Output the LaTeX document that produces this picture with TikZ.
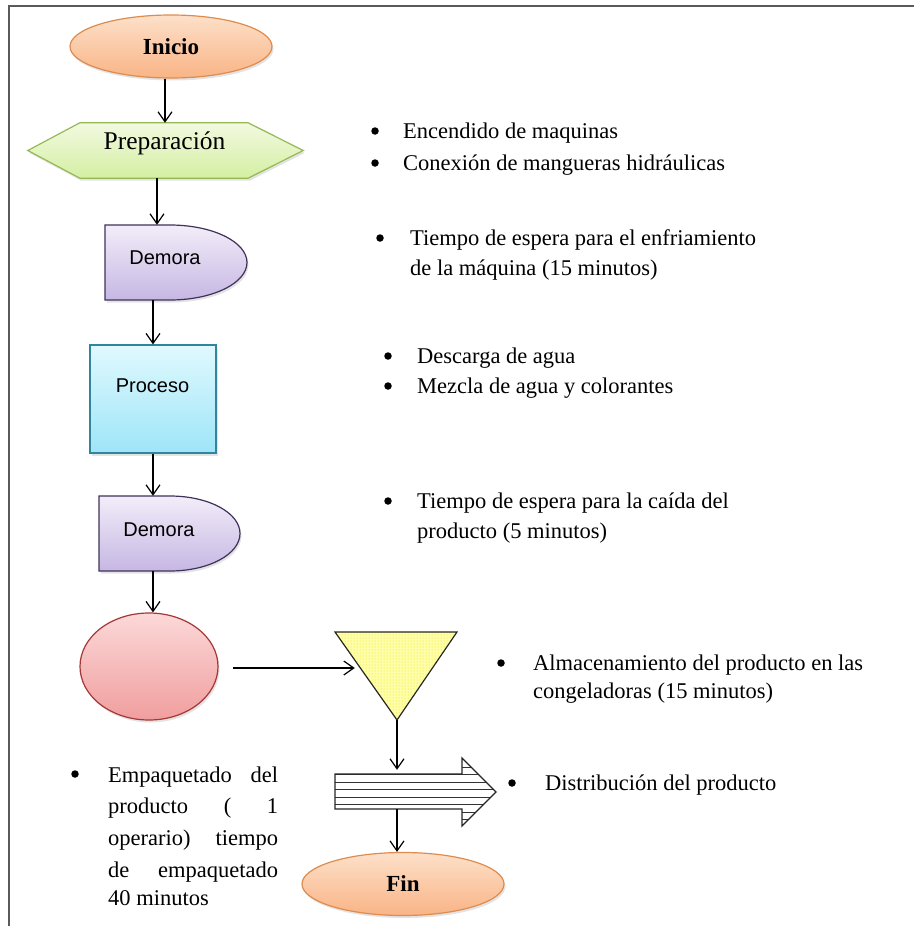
\documentclass[tikz,border=0pt]{standalone}
\usepackage{fontspec}
\setmainfont{Liberation Serif}
\newfontfamily\sansf{Liberation Sans}
\usetikzlibrary{arrows.meta,shadows,patterns,shapes.geometric}
\definecolor{orTop}{RGB}{253,224,201}
\definecolor{orBot}{RGB}{249,180,134}
\definecolor{orLine}{RGB}{222,140,78}
\definecolor{grTop}{RGB}{242,249,224}
\definecolor{grBot}{RGB}{212,239,163}
\definecolor{grLine}{RGB}{150,185,85}
\definecolor{puTop}{RGB}{242,237,249}
\definecolor{puBot}{RGB}{198,183,227}
\definecolor{puLine}{RGB}{64,49,90}
\definecolor{cyTop}{RGB}{224,249,254}
\definecolor{cyBot}{RGB}{158,229,248}
\definecolor{cyLine}{RGB}{49,133,156}
\definecolor{pkTop}{RGB}{252,216,216}
\definecolor{pkBot}{RGB}{240,158,158}
\definecolor{pkLine}{RGB}{165,55,55}
\definecolor{ylFill}{RGB}{255,255,170}
\definecolor{ylDot}{RGB}{240,225,0}
\definecolor{frameC}{RGB}{90,90,90}
\begin{document}
\begin{tikzpicture}[x=1pt,y=-1pt,
  arr/.style={draw=black, line width=1.2pt, -{Straight Barb[length=10pt,width=14pt,line width=1.2pt]}},
  shp/.style={line width=1.2pt, drop shadow={opacity=0.22, shadow xshift=1.5pt, shadow yshift=-2.5pt}},
  ghost/.style={rectangle, inner sep=0pt, draw=none},
  body/.style={font=\fontsize{22.5}{30}\selectfont, inner sep=0pt, anchor=base west},
  bul/.style={circle, fill=black, inner sep=0pt, minimum size=7.5pt},
  serifin/.style={font=\fontsize{25.5}{30}\selectfont, inner sep=0pt, anchor=base},
  sansin/.style={font=\sansf\fontsize{20}{24}\selectfont, inner sep=0pt, anchor=base},
  term/.style={ellipse, shp, minimum width=202pt, minimum height=63pt, inner sep=0pt,
    top color=orTop, bottom color=orBot, draw=orLine,
    font=\bfseries\fontsize{23}{28}\selectfont},
  demora/.style={shp, top color=puTop, bottom color=puBot, draw=puLine}
]
\useasboundingbox (0,0) rectangle (914,926);
% frame
\draw[line width=1.6pt, frameC] (9,926) -- (9,6) -- (914,6);

% Inicio
\node[term] (ini) at (171,46.5) {Inicio};

% Preparacion
\node[ghost, minimum width=275pt, minimum height=55pt] (prep) at (165.5,150.5) {};
\path[shp, top color=grTop, bottom color=grBot, draw=grLine]
  (prep.west) -- ([xshift=52pt]prep.north west) -- ([xshift=-55pt]prep.north east)
  -- (prep.east) -- ([xshift=-55pt]prep.south east) -- ([xshift=52pt]prep.south west) -- cycle;
\node[serifin] (prept) at (164.5,149.5) {Preparación};

% Demora 1
\node[ghost, minimum width=142pt, minimum height=75pt] (d1) at (176,262.5) {};
\path[demora] (105,225) -- (170,225) .. controls (212.5,225) and (247,241.8) .. (247,262.5)
  .. controls (247,283.2) and (212.5,300) .. (170,300) -- (105,300) -- cycle;
\node[sansin] (d1t) at (165,264) {Demora};

% Proceso
\node[shp, rectangle, minimum width=126pt, minimum height=108pt, inner sep=0pt,
  top color=cyTop, bottom color=cyBot, draw=cyLine] (proc) at (153,399) {};
\node[sansin] (proct) at (152.5,392) {Proceso};

% Demora 2
\node[ghost, minimum width=141pt, minimum height=75pt] (d2) at (169.5,533.5) {};
\path[demora] (99,496) -- (170,496) .. controls (208.7,496) and (240,512.8) .. (240,533.5)
  .. controls (240,554.2) and (208.7,571) .. (170,571) -- (99,571) -- cycle;
\node[sansin] (d2t) at (159,536) {Demora};

% circle
\node[ellipse, shp, minimum width=138pt, minimum height=107pt, inner sep=0pt,
  top color=pkTop, bottom color=pkBot, draw=pkLine] (circ) at (149,666.5) {};

% triangle
\node[ghost, minimum width=122pt, minimum height=88pt] (tri) at (396,676) {};
\fill[ylFill] (335,632) -- (457,632) -- (397,720) -- cycle;
\fill[pattern=dots, pattern color=ylDot] (335,632) -- (457,632) -- (397,720) -- cycle;
\draw[line width=1.2pt, black!85] (335,632) -- (457,632) -- (397,720) -- cycle;

% block arrow
\node[ghost, minimum width=127pt, minimum height=35pt] (blk) at (398.5,791.5) {};
\fill[white] (335,774) -- (462,774) -- (462,758) -- (496,792) -- (462,826) -- (462,809) -- (335,809) -- cycle;
\begin{scope}
  \clip (335,774) -- (462,774) -- (462,758) -- (496,792) -- (462,826) -- (462,809) -- (335,809) -- cycle;
  \foreach \yy in {767,774.5,...,822} { \draw[line width=0.9pt, black!80] (330,\yy) -- (500,\yy); }
\end{scope}
\draw[line width=1.1pt, black!85] (335,774) -- (462,774) -- (462,758) -- (496,792) -- (462,826) -- (462,809) -- (335,809) -- cycle;

% Fin
\node[term] (fin) at (403,884) {Fin};

% connectors
\draw[arr] ([xshift=-6pt]ini.south) -- ([xshift=-0.5pt]prep.north);
\draw[arr] ([xshift=-8.5pt]prep.south) -- ([xshift=-19pt]d1.north);
\draw[arr] ([xshift=-23pt]d1.south) -- (proc.north);
\draw[arr] (proc.south) -- ([xshift=-16.5pt]d2.north);
\draw[arr] ([xshift=-16.5pt]d2.south) -- ([xshift=4pt]circ.north);
\coordinate (c0) at (233,668);
\draw[arr] (c0) -- ([xshift=20pt,yshift=8pt]tri.west);
\draw[arr] ([xshift=1pt]tri.south) -- ([xshift=-1.5pt,yshift=4pt]blk.north);
\draw[arr] ([xshift=-1.5pt]blk.south) -- ([xshift=-6pt]fin.north);

% texts
\node[bul] (b1) at (375,131) {};
\node[body] (t1) at (403,138) {Encendido de maquinas};
\node[bul] (b2) at (375,163) {};
\node[body] (t2) at (403,170) {Conexión de mangueras hidráulicas};

\node[bul] (b3) at (380,238) {};
\node[body] (t3) at (410,245) {Tiempo de espera para el enfriamiento};
\node[body] (t3b) at (410,275) {de la máquina (15 minutos)};

\node[bul] (b4) at (388,356) {};
\node[body] (t4) at (417,363) {Descarga de agua};
\node[bul] (b5) at (388,386) {};
\node[body] (t5) at (417,393) {Mezcla de agua y colorantes};

\node[bul] (b6) at (388,501) {};
\node[body] (t6) at (417,508) {Tiempo de espera para la caída del};
\node[body] (t6b) at (417,538) {producto (5 minutos)};

\node[bul] (b7) at (501,663) {};
\node[body] (t7) at (533,670) {Almacenamiento del producto en las};
\node[body] (t7b) at (533,698) {congeladoras (15 minutos)};

\node[bul] (b8) at (512,783) {};
\node[body] (t8) at (545,790) {Distribución del producto};

\node[bul] (b9) at (75,774) {};
\node[body] (t9a) at (108,782) {\makebox[170pt][s]{Empaquetado del}};
\node[body] (t9b) at (108,813) {\makebox[170pt][s]{producto ( 1}};
\node[body] (t9c) at (108,845) {\makebox[170pt][s]{operario) tiempo}};
\node[body] (t9d) at (108,877) {\makebox[170pt][s]{de empaquetado}};
\node[body] (t9e) at (108,905) {40 minutos};
\end{tikzpicture}
\end{document}
